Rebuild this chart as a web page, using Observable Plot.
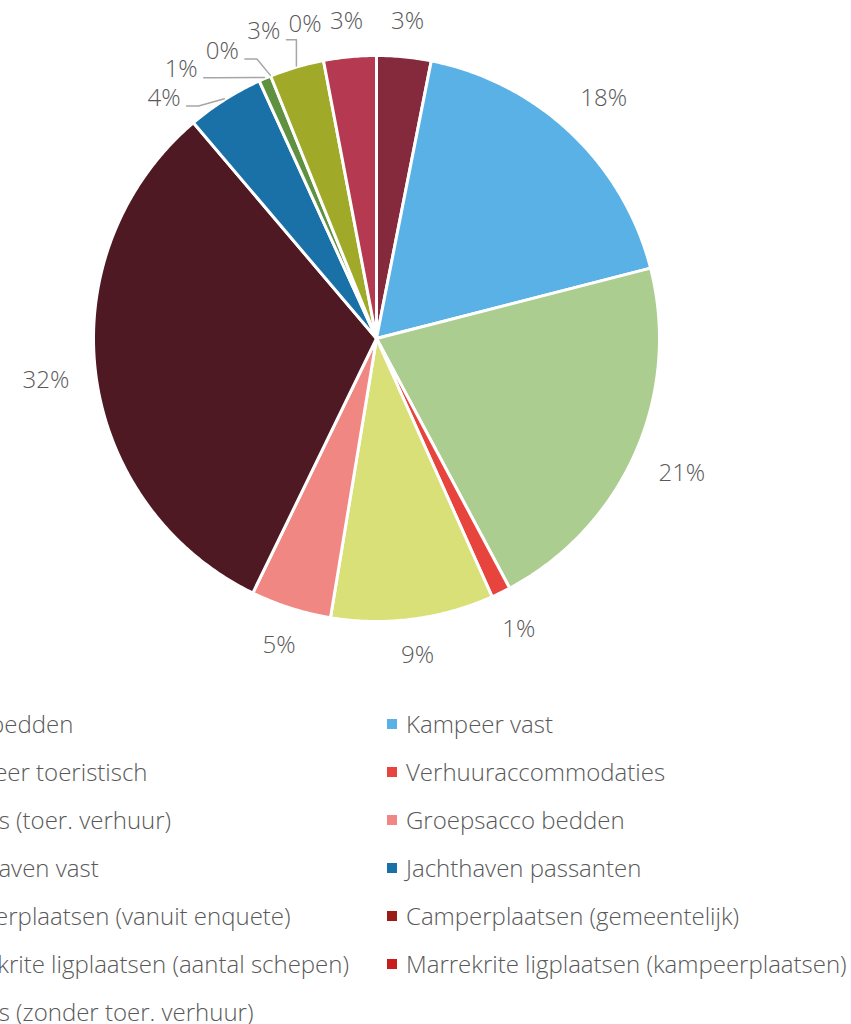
<!DOCTYPE html>
<html>
<head>
<meta charset="utf-8">
<script src="https://cdn.jsdelivr.net/npm/d3@7"></script>
<script src="https://cdn.jsdelivr.net/npm/@observablehq/plot@0.6"></script>
<style>
  html, body { margin: 0; padding: 0; background: #fff; }
  body { width: 851px; height: 1024px; overflow: hidden; position: relative; font-family: "Open Sans", sans-serif; }
  #chart { position: absolute; left: 0; top: 0; }
  #legend { position: absolute; top: 700px; left: -87px; display: grid; grid-template-columns: 474px 474px; }
  .item { height: 48px; line-height: 48px; display: flex; align-items: center; white-space: nowrap; font-size: 24px; font-weight: 300; color: #595959; }
  .sw { width: 10px; height: 10px; margin-right: 9px; flex: none; }
</style>
</head>
<body>
<div id="chart"></div>
<div id="legend"></div>
<script>
// ---- data ----
const categories = [
  "Hotelbedden",
  "Kampeer vast",
  "Kampeer toeristisch",
  "Verhuuraccommodaties",
  "Huisjes (toer. verhuur)",
  "Groepsacco bedden",
  "Jachthaven vast",
  "Jachthaven passanten",
  "Camperplaatsen (vanuit enquete)",
  "Camperplaatsen (gemeentelijk)",
  "Marrekrite ligplaatsen (aantal schepen)",
  "Marrekrite ligplaatsen (kampeerplaatsen)",
  "Huisjes (zonder toer. verhuur)"
];
const shares = [3.1, 17.9, 21.2, 1.1, 9.3, 4.6, 31.6, 4.4, 0.7, 0, 3.1, 0, 3.0];
const palette = ["#852A3C", "#5AB1E6", "#ABCD8F", "#E8443E", "#D9E078", "#F08783",
                 "#4E1923", "#1A71A7", "#5F9141", "#9B1B17", "#A0AA28", "#C81E1E", "#B53A51"];

// ---- geometry (layout) ----
const W = 851, H = 700, CX = 376, CY = 338, R = 283;
const total = d3.sum(shares);
let acc = 0;
const slices = categories.map((cat, i) => {
  const a0 = acc / total * 2 * Math.PI;
  acc += shares[i];
  const a1 = acc / total * 2 * Math.PI;
  return {cat, value: shares[i], a0, a1, mid: (a0 + a1) / 2};
});

// polygons for slices
const pts = [];
for (const s of slices) {
  if (s.value <= 0) continue;
  pts.push({cat: s.cat, x: 0, y: 0});
  const n = Math.max(2, Math.ceil((s.a1 - s.a0) / (Math.PI / 360)));
  for (let k = 0; k <= n; k++) {
    const a = s.a0 + (s.a1 - s.a0) * k / n;
    pts.push({cat: s.cat, x: R * Math.sin(a), y: -R * Math.cos(a)});
  }
  pts.push({cat: s.cat, x: 0, y: 0});
}

// labels: outside end, collisions resolved by shifting counter-clockwise
const FS = 24;
const ctx = document.createElement("canvas").getContext("2d");
ctx.font = `300 ${FS}px "Open Sans"`;
const GAP = 26, HEXT = 8, HB = 20, PADX = 8, PADY = 8;
const labels = slices.map((s, i) => {
  const text = Math.round(s.value / total * 100) + "%";
  return {i, cat: s.cat, text, a: s.mid, w: ctx.measureText(text).width};
});
labels.forEach(l => {
  const sn = Math.sin(l.a), cs = Math.cos(l.a);
  const ext = Math.abs(sn) * l.w / 2 + Math.abs(cs) * HEXT;
  const r = R + GAP + ext;
  l.x0 = l.x = r * sn; l.y0 = l.y = -r * cs;
});
const hit = (p, q) => Math.abs(p.x - q.x) < (p.w + q.w) / 2 + PADX && Math.abs(p.y - q.y) < HB + PADY;
const order = labels.slice().sort((p, q) => q.a - p.a); // descending angle
const placed = [];
for (const l of order) {
  const fromTop = Math.min(l.a, 2 * Math.PI - l.a) * 180 / Math.PI;
  const k = Math.max(0, (fromTop - 15) / 20);
  const dy = Math.sin(l.a) < 0 ? k : -k;
  let guard = 0;
  while (placed.some(p => hit(p, l)) && guard++ < 400) { l.x -= 0.5; l.y += 0.5 * dy; }
  placed.push(l);
}

// leader lines for displaced labels
const leaders = [];
for (const l of labels) {
  if (Math.hypot(l.x - l.x0, l.y - l.y0) < 12) continue;
  const tx = (R + 1) * Math.sin(l.a), ty = -(R + 1) * Math.cos(l.a);
  const sy = l.y + 8;
  const dir = tx > l.x ? 1 : -1;
  const sx = dir > 0 ? l.x + l.w / 2 + 6 : l.x - l.w / 2 - 3;
  const hx = sx + dir * Math.min(12, Math.max(0, dir * (tx - sx)));
  leaders.push({id: l.i, x: sx, y: sy}, {id: l.i, x: hx, y: sy}, {id: l.i, x: tx, y: ty});
}

const chart = Plot.plot({
  width: W, height: H,
  margin: 0, marginTop: 0, marginRight: 0, marginBottom: 0, marginLeft: 0,
  x: {domain: [-CX, W - CX], range: [0, W], axis: null},
  y: {domain: [-CY, H - CY], range: [0, H], axis: null},
  color: {type: "ordinal", domain: categories, range: palette},
  style: {fontFamily: "Open Sans", background: "white"},
  marks: [
    Plot.line(pts, {x: "x", y: "y", z: "cat", fill: "cat", stroke: "white", strokeWidth: 3, strokeLinejoin: "round", curve: "linear"}),
    Plot.line(leaders, {x: "x", y: "y", z: "id", stroke: "#A6A6A6", strokeWidth: 1.5}),
    Plot.text(labels, {x: "x", y: "y", text: "text", fill: "#595959", fontSize: FS, fontWeight: 300, fontFamily: "Open Sans"})
  ]
});
document.getElementById("chart").appendChild(chart);

// legend (Excel order: row by row, two columns)
const legend = document.getElementById("legend");
categories.forEach((c, i) => {
  const div = document.createElement("div");
  div.className = "item";
  const sw = document.createElement("span");
  sw.className = "sw";
  sw.style.background = palette[i];
  div.appendChild(sw);
  div.appendChild(document.createTextNode(c));
  legend.appendChild(div);
});
</script>
</body>
</html>
